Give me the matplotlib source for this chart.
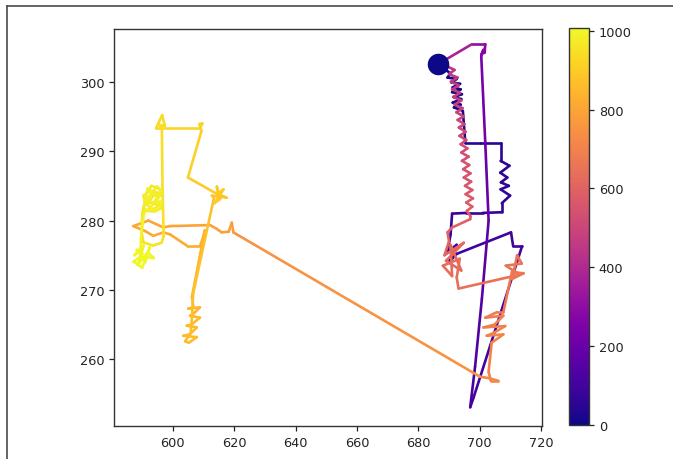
import numpy as np
import matplotlib
matplotlib.use("Agg")
import matplotlib.pyplot as plt
from matplotlib.collections import LineCollection
from matplotlib.colors import Normalize
from matplotlib.lines import Line2D

# Track vertices: x, y position and the time step at which each was reached
track = [
    # start and early wiggle
    (686.5, 302.5, 0), (688.0, 302.0, 2), (690.5, 301.2, 4), (689.5, 300.6, 6),
    (692.5, 300.4, 8), (690.8, 299.9, 10), (693.6, 299.7, 12), (691.2, 299.2, 14),
    (693.8, 298.9, 16), (691.0, 298.5, 18), (694.2, 298.2, 20), (691.5, 297.8, 22),
    (694.0, 297.5, 24), (691.2, 297.0, 26), (693.8, 296.7, 28), (691.6, 296.3, 30),
    (694.5, 295.8, 32), (695.3, 291.2, 40),
    # box excursion to the right
    (700.0, 291.2, 44), (706.8, 291.2, 48), (706.8, 288.6, 51), (709.7, 287.9, 53),
    (706.7, 286.9, 55), (709.0, 286.2, 57), (706.9, 285.5, 59), (709.5, 285.0, 61),
    (706.8, 284.5, 63), (709.9, 283.6, 65), (707.2, 282.5, 67), (707.2, 281.2, 69),
    (701.0, 281.1, 72), (695.5, 281.1, 75), (691.0, 281.0, 78),
    (690.5, 278.0, 81), (689.5, 275.5, 84), (692.5, 276.5, 86), (690.0, 274.0, 88),
    (692.5, 275.2, 90), (710.2, 278.3, 95), (710.9, 276.3, 97), (713.8, 276.3, 99),
    # down to the lowest point and the long climb
    (698.0, 254.5, 108), (696.9, 253.1, 110), (698.5, 259.0, 125), (700.7, 268.7, 150),
    (702.9, 280.0, 180), (701.8, 291.3, 215), (700.5, 303.7, 250), (701.2, 304.6, 258),
    (700.6, 304.0, 264), (701.6, 304.2, 270), (701.8, 305.4, 280), (697.4, 305.4, 320),
    (688.2, 303.0, 430),
    # descent with the fine wiggle
    (689.0, 302.3, 440), (691.8, 301.7, 444), (690.0, 301.1, 448), (692.8, 300.6, 452),
    (690.6, 300.0, 456), (693.2, 299.5, 460), (691.0, 298.9, 464), (693.6, 298.4, 468),
    (691.4, 297.8, 472), (694.0, 297.3, 476), (691.8, 296.7, 480), (694.4, 296.2, 484),
    (692.4, 295.6, 488), (694.8, 295.0, 492), (692.8, 294.5, 496), (695.0, 293.9, 500),
    (693.2, 293.4, 504), (695.4, 292.8, 508), (693.4, 292.2, 512), (695.6, 291.6, 516),
    (693.8, 291.0, 520), (696.0, 290.4, 524), (694.0, 289.8, 528), (696.4, 289.2, 532),
    (694.2, 288.6, 536), (696.6, 288.0, 540), (694.6, 287.4, 544), (697.0, 286.8, 548),
    (694.8, 286.2, 552), (697.2, 285.6, 556), (695.2, 285.0, 560), (697.6, 284.4, 564),
    (695.4, 283.8, 568), (697.8, 283.2, 572), (695.6, 282.6, 576), (697.6, 282.0, 580),
    (695.8, 281.4, 584), (697.0, 280.6, 588), (696.9, 280.2, 590), (691.0, 279.0, 596),
    (689.5, 278.3, 600), (690.0, 277.0, 604),
    # tangle near (691, 274)
    (688.5, 275.0, 608), (694.8, 276.8, 612), (689.0, 274.2, 616), (694.0, 272.8, 620),
    (690.5, 276.5, 624), (691.0, 272.0, 628), (688.0, 273.5, 632), (693.5, 274.5, 636),
    (692.5, 271.8, 640), (693.1, 270.2, 644),
    # star on the right
    (713.0, 272.2, 652), (708.5, 273.5, 655), (713.7, 273.8, 658), (712.2, 275.0, 661),
    (710.6, 271.6, 664), (714.3, 272.4, 667), (710.5, 272.6, 670),
    (707.7, 266.8, 676), (705.6, 266.8, 679), (701.8, 266.0, 682), (707.7, 266.3, 685),
    (704.8, 265.0, 688), (701.2, 264.6, 691), (708.3, 264.8, 694), (704.5, 263.8, 697),
    (702.3, 263.4, 700), (707.7, 263.6, 703), (703.9, 262.4, 706), (702.9, 258.2, 709),
    (703.6, 256.9, 711), (706.1, 256.9, 713), (703.0, 257.3, 715), (700.1, 257.5, 717),
    # long crossing to the left
    (619.7, 278.3, 780), (619.2, 279.7, 782), (618.2, 278.4, 784), (615.9, 278.3, 786),
    (614.3, 278.8, 788), (612.1, 279.35, 790), (599.0, 279.2, 800), (596.9, 279.0, 803),
    (592.0, 280.0, 806), (587.1, 279.2, 809), (590.9, 278.5, 812), (593.6, 277.8, 815),
    (596.9, 278.3, 818), (599.1, 278.0, 820), (604.5, 276.4, 823), (608.9, 276.4, 826),
    (610.0, 277.8, 828), (610.4, 278.6, 830),
    # small cluster at the bottom left
    (606.2, 269.0, 838), (606.7, 267.5, 840), (605.0, 267.3, 842), (608.8, 267.5, 844),
    (606.3, 266.4, 846), (605.6, 266.3, 848), (608.8, 266.0, 850), (606.0, 265.0, 852),
    (604.5, 264.85, 854), (607.8, 264.6, 856), (605.5, 263.6, 858), (603.4, 263.4, 860),
    (607.8, 263.2, 862), (605.2, 262.4, 864), (604.0, 262.6, 866), (605.8, 263.8, 868),
    (606.2, 266.0, 870), (606.6, 269.5, 872),
    # star and upper loop
    (613.4, 283.3, 880), (612.7, 283.6, 882), (617.5, 283.3, 884), (614.8, 283.8, 886),
    (614.3, 284.9, 888), (615.4, 283.1, 890), (613.5, 282.5, 892), (616.5, 284.5, 894),
    (614.5, 283.8, 896), (604.9, 286.2, 905), (609.3, 292.9, 915), (608.6, 293.9, 917),
    (609.6, 294.0, 919), (608.8, 293.3, 921), (594.5, 293.3, 935), (596.5, 295.2, 937),
    (597.4, 293.6, 939), (595.5, 293.8, 941), (596.4, 293.4, 943), (596.6, 285.0, 948),
    (597.0, 277.8, 952), (596.3, 276.8, 954), (593.6, 276.4, 956), (590.4, 276.85, 958),
    (589.8, 278.3, 960), (590.0, 281.0, 962),
    # final wandering
    (591.5, 284.0, 963), (593.0, 285.0, 964), (595.5, 284.6, 965), (596.8, 283.5, 966),
    (594.0, 283.8, 967), (592.0, 282.6, 968), (595.8, 282.2, 969), (593.5, 281.6, 970),
    (591.0, 282.5, 971), (590.4, 283.6, 972), (592.8, 284.3, 973), (596.0, 283.9, 974),
    (594.6, 282.9, 975), (596.5, 281.8, 976), (594.0, 281.3, 977), (591.2, 281.4, 978),
    (590.5, 282.0, 979), (592.2, 283.4, 980), (594.8, 284.9, 981), (596.2, 284.2, 982),
    (593.2, 282.2, 983), (595.2, 283.2, 984), (591.8, 284.6, 985), (590.8, 283.0, 986),
    (593.8, 282.6, 987), (596.4, 282.8, 988), (595.0, 281.6, 989), (592.4, 281.8, 990),
    (590.6, 281.2, 991), (589.6, 277.5, 994), (589.5, 276.0, 995), (587.5, 275.0, 996),
    (590.5, 276.4, 997), (588.5, 273.6, 998), (591.8, 275.4, 999), (593.8, 274.6, 1000),
    (589.5, 274.8, 1001), (587.2, 274.1, 1002), (590.0, 273.2, 1003), (592.5, 276.2, 1004),
    (591.0, 274.0, 1005), (588.2, 275.8, 1006), (590.2, 275.2, 1007),
]

xs = np.array([p[0] for p in track])
ys = np.array([p[1] for p in track])
ts = np.array([p[2] for p in track], dtype=float)

cbar_ticks = [0, 200, 400, 600, 800, 1000]
x_ticks = [600, 620, 640, 660, 680, 700, 720]
y_ticks = [260, 270, 280, 290, 300]

W, H = 673, 460
fig = plt.figure(figsize=(W / 100, H / 100), dpi=100)
fig.patch.set_facecolor("white")

# page border
border = dict(color="#4a4a4a", lw=1.2, transform=fig.transFigure)
fig.add_artist(Line2D([7 / W, 7 / W], [0, 1 - 7 / H], **border))
fig.add_artist(Line2D([7 / W, 1], [1 - 7 / H, 1 - 7 / H], **border))

ax = fig.add_axes([114 / W, (H - 427) / H, 428 / W, 397 / H])
cax = fig.add_axes([569 / W, (H - 426) / H, 20 / W, 397 / H])

norm = Normalize(vmin=ts.min(), vmax=ts.max())
pts = np.column_stack([xs, ys]).reshape(-1, 1, 2)
segs = np.concatenate([pts[:-1], pts[1:]], axis=1)
seg_t = 0.5 * (ts[:-1] + ts[1:])
lc = LineCollection(segs, cmap="plasma", norm=norm, linewidths=1.9,
                    capstyle="round", joinstyle="round")
lc.set_array(seg_t)
ax.add_collection(lc)

ax.scatter([xs[0]], [ys[0]], s=210, c=[ts[0]], cmap="plasma", norm=norm, zorder=3)

ax.set_xlim(580.8, 720.3)
ax.set_ylim(250.4, 307.6)
ax.set_xticks(x_ticks)
ax.set_yticks(y_ticks)

cb = fig.colorbar(lc, cax=cax)
cb.set_ticks(cbar_ticks)

for a in (ax, cax):
    a.tick_params(labelsize=9.3, colors="#222222", length=3.5, width=0.9)
    for s in a.spines.values():
        s.set_color("#333333")
        s.set_linewidth(1.0)
cb.outline.set_edgecolor("#333333")

fig.savefig("out.png", dpi=100)
